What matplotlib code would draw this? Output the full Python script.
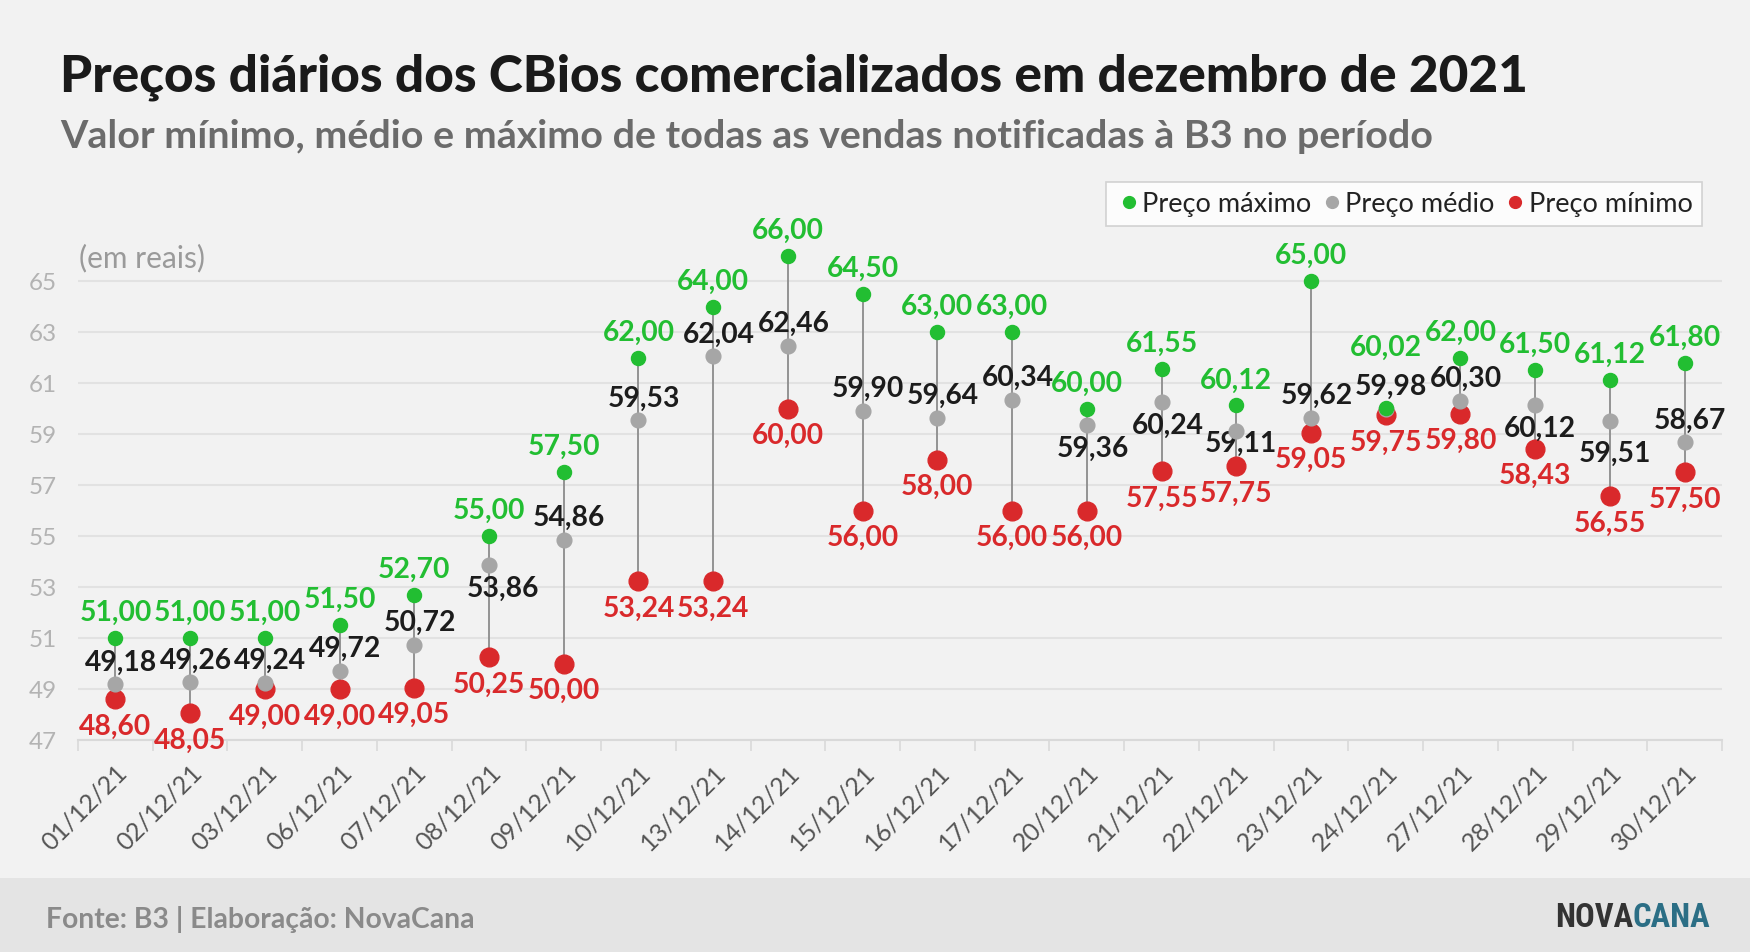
import numpy as np
import matplotlib
matplotlib.use("Agg")
import matplotlib.pyplot as plt
from matplotlib.lines import Line2D
from matplotlib.patches import Rectangle

plt.rcParams['font.family'] = ['Lato', 'DejaVu Sans']

# dados (R$)
datas = ['01/12/21', '02/12/21', '03/12/21', '06/12/21', '07/12/21', '08/12/21',
         '09/12/21', '10/12/21', '13/12/21', '14/12/21', '15/12/21', '16/12/21',
         '17/12/21', '20/12/21', '21/12/21', '22/12/21', '23/12/21', '24/12/21',
         '27/12/21', '28/12/21', '29/12/21', '30/12/21']
preco_max = [51.00, 51.00, 51.00, 51.50, 52.70, 55.00, 57.50, 62.00, 64.00, 66.00, 64.50,
             63.00, 63.00, 60.00, 61.55, 60.12, 65.00, 60.02, 62.00, 61.50, 61.12, 61.80]
preco_medio = [49.18, 49.26, 49.24, 49.72, 50.72, 53.86, 54.86, 59.53, 62.04, 62.46, 59.90,
               59.64, 60.34, 59.36, 60.24, 59.11, 59.62, 59.98, 60.30, 60.12, 59.51, 58.67]
preco_min = [48.60, 48.05, 49.00, 49.00, 49.05, 50.25, 50.00, 53.24, 53.24, 60.00, 56.00,
             58.00, 56.00, 56.00, 57.55, 57.75, 59.05, 59.75, 59.80, 58.43, 56.55, 57.50]
yticks = [47, 49, 51, 53, 55, 57, 59, 61, 63, 65]

VERDE = '#22be32'
CINZA = '#a6a6a6'
VERMELHO = '#d9292b'
PRETO = '#1c1c1c'

def fmt(v):
    return f'{v:.2f}'.replace('.', ',')

# deslocamento dos rótulos (pixels)
off_medio = {5: (14, -23), 13: (6, -23), 14: (6, -22), 15: (5, -12), 19: (5, -22), 20: (5, -32)}
off_max = {17: 61}

fig = plt.figure(figsize=(17.5, 9.53), dpi=100)
fig.patch.set_facecolor('#f2f2f2')
fig.patches.append(Rectangle((0, 0), 1, 74 / 953, transform=fig.transFigure,
                             facecolor='#e4e4e4', edgecolor='none', zorder=0))

ax = fig.add_axes([78 / 1750, 212 / 953, 1644 / 1750, 510 / 953])
ax.set_facecolor('#f2f2f2')
x = np.arange(len(datas))

ax.vlines(x, preco_min, preco_max, color='#8c8c8c', linewidth=1.3, zorder=2)
ax.plot(x, preco_min, 'o', color=VERMELHO, markersize=13.5, zorder=3, label='Preço mínimo')
ax.plot(x, preco_medio, 'o', color=CINZA, markersize=10.6, zorder=4, label='Preço médio')
ax.plot(x, preco_max, 'o', color=VERDE, markersize=10.1, zorder=5, label='Preço máximo')

rot = dict(ha='center', va='center', fontsize=20.3, fontweight='bold',
           textcoords='offset pixels', annotation_clip=False)
for i in range(len(datas)):
    dy = off_max.get(i, 26)
    ax.annotate(fmt(preco_max[i]), (x[i], preco_max[i]), xytext=(0, dy), color=VERDE, **rot)
    dx, dy = off_medio.get(i, (5.5, 23))
    ax.annotate(fmt(preco_medio[i]), (x[i], preco_medio[i]), xytext=(dx, dy), color=PRETO, **rot)
    ax.annotate(fmt(preco_min[i]), (x[i], preco_min[i]), xytext=(0, -26.5), color=VERMELHO, **rot)

ax.set_xlim(-0.5, len(datas) - 0.5)
ax.set_ylim(47, 67)
ax.set_yticks(yticks)
ax.set_yticklabels([str(t) for t in yticks], fontsize=17.5, color='#b3b3b3')
ax.yaxis.grid(True, color='#e2e2e2', linewidth=1.5)
ax.set_axisbelow(True)
ax.tick_params(axis='y', length=0, pad=15)

ax.set_xticks(x)
ax.set_xticklabels(datas, rotation=45, ha='right', rotation_mode='anchor',
                   fontsize=18, color='#555555')
ax.set_xticks(np.arange(-0.5, len(datas)), minor=True)
ax.tick_params(axis='x', which='major', length=0, pad=14)
ax.tick_params(axis='x', which='minor', length=8, width=1.2, color='#d9d9d9')
for s in ['top', 'right', 'left']:
    ax.spines[s].set_visible(False)
ax.spines['bottom'].set_color('#d9d9d9')
ax.spines['bottom'].set_linewidth(1.5)

handles = [Line2D([], [], marker='o', linestyle='none', color=VERDE, markersize=8.5),
           Line2D([], [], marker='o', linestyle='none', color=CINZA, markersize=8.5),
           Line2D([], [], marker='o', linestyle='none', color=VERMELHO, markersize=8.5)]
leg = fig.legend(handles, ['Preço máximo', 'Preço médio', 'Preço mínimo'], ncol=3,
                 loc='upper right', bbox_to_anchor=(1702 / 1750, 1 - 183 / 953),
                 frameon=True, fancybox=False, fontsize=19.5, handletextpad=0.0,
                 columnspacing=0.25, handlelength=1.0, borderpad=0.35, borderaxespad=0)
leg.get_frame().set_facecolor('white')
leg.get_frame().set_edgecolor('#c8c8c8')
leg.get_frame().set_linewidth(1.2)
for t in leg.get_texts():
    t.set_color('#222222')

fig.text(60 / 1750, 1 - 77 / 953, 'Preços diários dos CBios comercializados em dezembro de 2021',
         fontsize=37, fontweight='black', color='#1a1a1a', va='center')
fig.text(60 / 1750, 1 - 137 / 953, 'Valor mínimo, médio e máximo de todas as vendas notificadas à B3 no período',
         fontsize=28.4, fontweight='bold', color='#6b6b6b', va='center')
fig.text(79 / 1750, 1 - 258 / 953, '(em reais)', fontsize=21.5, color='#9a9a9a', va='center')
fig.text(46 / 1750, 1 - 920 / 953, 'Fonte: B3 | Elaboração: NovaCana', fontsize=20.3,
         fontweight='bold', color='#8a8a8a', va='center')
logo = ['Roboto Condensed', 'Liberation Sans Narrow', 'DejaVu Sans']
fig.text(1633 / 1750, 1 - 918 / 953, 'NOVA', fontsize=23.5, fontweight='bold', color='#333333',
         va='center', ha='right', family=logo, fontstretch='condensed')
fig.text(1633 / 1750, 1 - 918 / 953, 'CANA', fontsize=23.5, fontweight='bold', color='#2b6e85',
         va='center', ha='left', family=logo, fontstretch='condensed')

fig.savefig('out.png', dpi=100, facecolor=fig.get_facecolor())
